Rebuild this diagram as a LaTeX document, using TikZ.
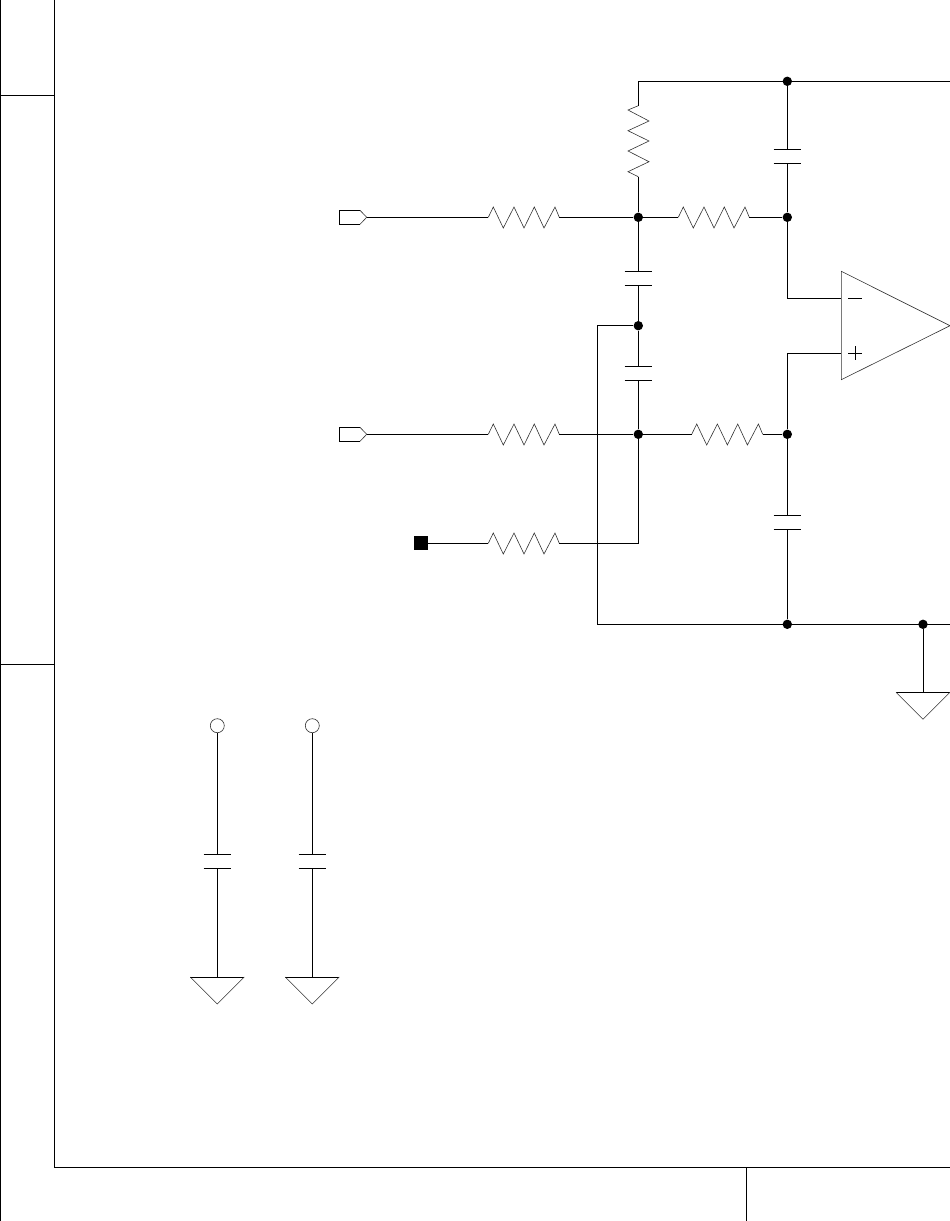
\documentclass[tikz,border=0pt]{standalone}
\usepackage{tikz}
\usetikzlibrary{positioning}
\tikzset{
  wire/.style={line width=1pt, black},
  thin part/.style={line width=0.6pt, black!80},
  junction/.style={circle, fill=black, inner sep=0pt, minimum size=9.4pt},
  term/.style={circle, draw=black!80, line width=0.6pt, fill=white, inner sep=0pt, minimum size=14pt},
  pad/.style={rectangle, fill=black, inner sep=0pt, minimum size=14pt},
  res/.pic={
    \coordinate (-a) at (0,0);
    \coordinate (-b) at (71,0);
    \draw[thin part] (0,0)--(5,-10.3)--(15,10.7)--(25.7,-10.3)--(35.7,10.7)--(46,-10.3)--(55.7,10.7)--(66.7,-10.3)--(71,0);
  },
  cap/.pic={
    \coordinate (-a) at (0,-7);
    \coordinate (-b) at (0,7);
    \draw[wire] (-13.7,-7)--(13.7,-7);
    \draw[wire] (-13.7,7)--(13.7,7);
  },
  gnd/.pic={
    \coordinate (-a) at (0,0);
    \draw[wire] (-27,0)--(27,0);
    \draw[thin part] (-27,0)--(0,27)--(27,0);
  },
  port/.pic={
    \coordinate (-a) at (27.4,0);
    \draw[wire] (20.7,-7)--(0,-7)--(0,7)--(20.7,7);
    \draw[thin part] (20.7,-7)--(27.4,0)--(20.7,7);
  }
}
\begin{document}
\begin{tikzpicture}[x=1pt, y=-1pt]
\useasboundingbox (0,0) rectangle (950,1221);
\draw[wire] (0.5,0)--(0.5,1221);
\draw[wire] (54.3,0)--(54.3,1167.3)--(950,1167.3);
\draw[wire] (0,95.5)--(54.3,95.5);
\draw[wire] (0,664.4)--(54.3,664.4);
\draw[wire] (746.3,1167.3)--(746.3,1221);

\foreach \name/\x/\y in {rin/488.3/217.3, rfb/678.3/217.3, rpos/488.3/434.3, rset/691.7/434.3, rref/488.3/543.3}
  \pic (\name) at (\x,\y) {res};
\pic[rotate=90] (rtop) at (638.3,176.7) {res};

\foreach \name/\x/\y in {cfb/787.3/156.3, ca/638.3/278.3, cb/638.3/373.3, cpos/787.3/522.8, cdeca/217.3/861.8, cdecb/312.3/861.8}
  \pic (\name) at (\x,\y) {cap};

\foreach \name/\x/\y in {gmain/923/692.3, gdeca/217.3/977, gdecb/312.3/977}
  \pic (\name) at (\x,\y) {gnd};

\pic (pa) at (339.3,217.3) {port};
\pic (pb) at (339.3,434.3) {port};
\node[pad] (pref) at (421,543.3) {};
\node[term] (ta) at (217.3,725.7) {};
\node[term] (tb) at (312.3,725.7) {};

\foreach \name/\x/\y in {ntop/787.3/81.3, nin/638.3/217.3, nneg/787.3/217.3, nmid/638.3/325.7, npos/638.3/434.3, nset/787.3/434.3, nbus/787.3/624.3, ngnd/923/624.3}
  \node[junction] (\name) at (\x,\y) {};

\coordinate (corner) at (638.3,81.3);
\coordinate (topend) at (950,81.3);
\coordinate (busend) at (950,624.3);
\coordinate (busleft) at (597.3,624.3);
\coordinate (refcorner) at (638.3,543.3);
\coordinate (inneg) at (841.3,298.3);
\coordinate (inpos) at (841.3,353.3);

\draw[thin part] (841.3,271.3)--(950,325.7)--(841.3,379.7)--cycle;
\draw[wire] (848.3,298.3)--(862,298.3);
\draw[wire] (848.3,353.3)--(862,353.3);
\draw[wire] (855.2,346.3)--(855.2,360.3);

\draw[wire] (rtop-b)--(corner)--(topend);
\draw[wire] (ntop)--(cfb-a);
\draw[wire] (cfb-b)--(nneg);
\draw[wire] (pa-a)--(rin-a);
\draw[wire] (rin-b)--(nin);
\draw[wire] (nin)--(rfb-a);
\draw[wire] (rfb-b)--(nneg);
\draw[wire] (nin)--(rtop-a);
\draw[wire] (nin)--(ca-a);
\draw[wire] (ca-b)--(nmid);
\draw[wire] (nmid)--(cb-a);
\draw[wire] (cb-b)--(npos);
\draw[wire] (nneg) |- (inneg);
\draw[wire] (nset) |- (inpos);
\draw[wire] (pb-a)--(rpos-a);
\draw[wire] (rpos-b)--(npos);
\draw[wire] (npos)--(rset-a);
\draw[wire] (rset-b)--(nset);
\draw[wire] (pref)--(rref-a);
\draw[wire] (rref-b)--(refcorner)--(npos);
\draw[wire] (nset)--(cpos-a);
\draw[wire] (cpos-b)--(nbus);
\draw[wire] (nmid) -| (busleft)--(busend);
\draw[wire] (ngnd)--(gmain-a);
\draw[wire] (ta)--(cdeca-a);
\draw[wire] (cdeca-b)--(gdeca-a);
\draw[wire] (tb)--(cdecb-a);
\draw[wire] (cdecb-b)--(gdecb-a);
\end{tikzpicture}
\end{document}
